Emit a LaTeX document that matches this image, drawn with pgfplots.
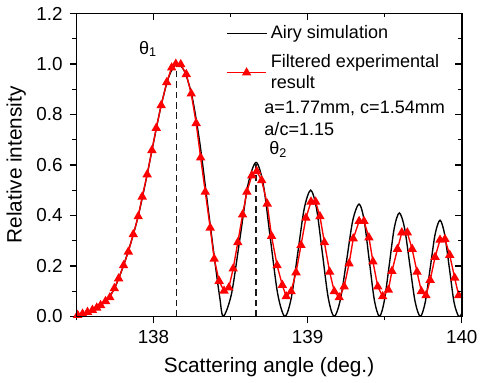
\documentclass[border=0pt]{standalone}
\usepackage{fontspec}
\setmainfont{Liberation Sans}
\usepackage{pgfplots}
\pgfplotsset{compat=1.18}
\pgfplotsset{mybase/.style={
  scale only axis, width=196.5pt, height=154.5pt,
  xmin=137.5, xmax=140, ymin=0, ymax=1.2,
  xtick={138,139,140}, minor xtick={137.5,138.5,139.5},
  ytick={0,0.2,0.4,0.6,0.8,1.0,1.2}, minor ytick={0.1,0.3,0.5,0.7,0.9,1.1},
  major tick length=3.5pt, minor tick length=2pt,
  tick style={line width=0.7pt, black},
  axis line style={line width=0.9pt, -},
}}
\begin{document}
\begin{tikzpicture}
\begin{axis}[
  mybase, name=main,
  axis x line*=bottom, axis y line*=left,
  tick align=outside,
  yticklabel style={/pgf/number format/fixed, /pgf/number format/fixed zerofill, /pgf/number format/precision=1},
  /pgf/number format/assume math mode=true,
  ticklabel style={font=\fontsize{9.6}{10}\selectfont},
  label style={font=\fontsize{10.6}{12}\selectfont},
  xlabel={Scattering angle (deg.)},
  ylabel={Relative intensity},
  ylabel style={yshift=-1.5pt},
  legend style={at={(rel axis cs:0.388,0.975)}, anchor=north west, draw=none, fill=none,
    font=\fontsize{9.2}{10.8}\selectfont, cells={anchor=west, align=left}, inner sep=0pt, row sep=2.5pt},
  legend image code/.code={\draw[mark repeat=2,mark phase=2,#1] plot coordinates {(0pt,0pt)(10pt,0pt)(20pt,0pt)};},
]
\addplot[black, line width=0.7pt, smooth, tension=0.5] coordinates {
(137.50,0.003)(137.55,0.010)(137.60,0.023)(137.65,0.041)(137.70,0.066)(137.75,0.115)
(137.80,0.192)(137.85,0.285)(137.90,0.395)(137.95,0.535)(138.00,0.688)(138.05,0.836)
(138.10,0.950)(138.15,1.000)(138.20,0.972)(138.25,0.872)(138.30,0.690)(138.35,0.450)
(138.40,0.210)(138.43,0.075)(138.453,0.0)
(138.506,0.089)(138.560,0.305)(138.613,0.521)(138.666,0.610)
(138.713,0.521)(138.759,0.305)(138.806,0.089)(138.852,0.0)
(138.894,0.073)(138.936,0.250)(138.978,0.427)(139.020,0.500)
(139.058,0.427)(139.096,0.250)(139.134,0.073)(139.172,0.0)
(139.212,0.065)(139.253,0.222)(139.293,0.380)(139.334,0.445)
(139.367,0.380)(139.400,0.222)(139.433,0.065)(139.466,0.0)
(139.497,0.060)(139.530,0.205)(139.562,0.350)(139.595,0.410)
(139.629,0.350)(139.663,0.205)(139.697,0.060)(139.731,0.0)
(139.763,0.056)(139.795,0.190)(139.827,0.325)(139.859,0.381)
(139.889,0.325)(139.920,0.190)(139.950,0.056)(139.980,0.0)(140.0,0.012)
};
\addlegendentry{Airy simulation}
\addplot[red, line width=0.7pt, mark=triangle*, mark size=2.1pt, mark options={solid}] coordinates {
(137.508,0.005)(137.540,0.010)(137.572,0.017)(137.604,0.025)(137.632,0.034)(137.657,0.044)
(137.689,0.060)(137.717,0.075)(137.746,0.111)(137.774,0.150)(137.806,0.202)(137.837,0.256)
(137.869,0.325)(137.901,0.396)(137.927,0.474)(137.959,0.562)(137.990,0.658)(138.018,0.746)
(138.050,0.836)(138.086,0.927)(138.118,0.985)(138.145,1.000)(138.177,0.998)(138.213,0.959)
(138.245,0.882)(138.277,0.765)(138.306,0.629)(138.336,0.493)(138.368,0.351)(138.394,0.228)
(138.426,0.140)(138.458,0.101)(138.489,0.114)(138.517,0.189)(138.547,0.293)(138.578,0.403)
(138.606,0.493)(138.638,0.558)(138.670,0.575)(138.702,0.539)(138.738,0.446)(138.766,0.318)
(138.802,0.202)(138.836,0.124)(138.861,0.079)(138.893,0.099)(138.925,0.174)(138.957,0.282)
(138.989,0.390)(139.022,0.454)(139.052,0.454)(139.080,0.396)(139.109,0.293)(139.143,0.176)
(139.173,0.099)(139.205,0.075)(139.237,0.118)(139.269,0.209)(139.296,0.308)(139.334,0.377)
(139.366,0.377)(139.398,0.312)(139.424,0.217)(139.455,0.118)(139.487,0.079)(139.524,0.105)
(139.547,0.179)(139.583,0.267)(139.611,0.332)(139.647,0.332)(139.678,0.267)(139.710,0.176)
(139.738,0.099)(139.768,0.083)(139.795,0.144)(139.827,0.235)(139.859,0.303)(139.891,0.306)
(139.922,0.243)(139.954,0.153)(139.980,0.083)
};
\addlegendentry{Filtered experimental\\result}
\addplot[black!90, line width=0.85pt, dash pattern=on 3.3pt off 2pt, forget plot] coordinates {(138.15,0)(138.15,1.0)};
\addplot[black!90, line width=0.85pt, dash pattern=on 3.3pt off 2pt, forget plot] coordinates {(138.666,0)(138.666,0.61)};
\node[font=\fontsize{9.2}{11}\selectfont] at (axis cs:137.965,1.06) {θ\textsubscript{1}};
\node[font=\fontsize{9.2}{11}\selectfont] at (axis cs:138.81,0.66) {θ\textsubscript{2}};
\node[anchor=west, font=\fontsize{9.2}{11}\selectfont, inner sep=0pt] at (rel axis cs:0.487,0.688) {a=1.77mm, c=1.54mm};
\node[anchor=west, font=\fontsize{9.2}{11}\selectfont, inner sep=0pt] at (rel axis cs:0.487,0.619) {a/c=1.15};
\end{axis}
\begin{axis}[
  mybase,
  axis x line*=top, axis y line*=right,
  tick align=inside,
  xticklabels={}, yticklabels={},
]
\addplot[draw=none, forget plot] coordinates {(138,0.5)(139,0.6)};
\end{axis}
\draw[line width=0.9pt, black] (main.south west) rectangle (main.north east);
\end{tikzpicture}
\end{document}
